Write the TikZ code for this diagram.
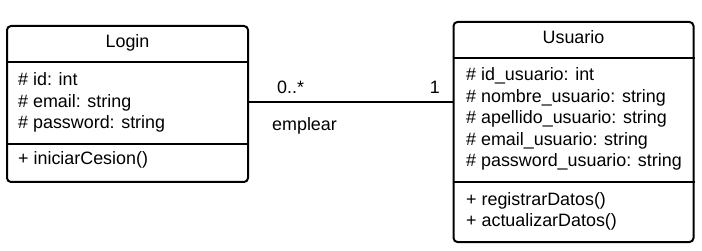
\documentclass[tikz,border=0pt]{standalone}
\usepackage{fontspec}
\setmainfont{Liberation Sans}
\begin{document}
\begin{tikzpicture}[x=1pt,y=-1pt,
  classbox/.style={draw=black, line width=2pt, rounded corners=4pt, inner sep=0pt},
  divider/.style={draw=black, line width=2pt},
  txt/.style={anchor=base west, inner sep=0pt, font=\fontsize{17.9}{20}\selectfont},
  title/.style={anchor=base, inner sep=0pt, font=\fontsize{17.9}{20}\selectfont},
  assoc/.style={draw=black, line width=2.8pt}]
\useasboundingbox (0,0) rectangle (702,251);

% class Login
\node[classbox, minimum width=241pt, minimum height=156pt] (login) at (127.5,104) {};
\draw[divider] (login.west |- 0,62) -- (login.east |- 0,62);
\draw[divider] (login.west |- 0,144) -- (login.east |- 0,144);
\node[title] (logint) at (127.5,48) {Login};
\node[txt] (la1) at (18,86) {\# id: int};
\node[txt] (la2) at (18,107.5) {\# email: string};
\node[txt] (la3) at (18,129) {\# password: string};
\node[txt] (lm1) at (18,165) {+ iniciarCesion()};

% class Usuario
\node[classbox, minimum width=240pt, minimum height=220pt] (usuario) at (573.5,132) {};
\draw[divider] (usuario.west |- 0,58) -- (usuario.east |- 0,58);
\draw[divider] (usuario.west |- 0,182) -- (usuario.east |- 0,182);
\node[title] (usuariot) at (573.5,43.5) {Usuario};
\node[txt] (ua1) at (466,81) {\# id\_usuario: int};
\node[txt] (ua2) at (466,102.5) {\# nombre\_usuario: string};
\node[txt] (ua3) at (466,124) {\# apellido\_usuario: string};
\node[txt] (ua4) at (466,145.5) {\# email\_usuario: string};
\node[txt] (ua5) at (466,167) {\# password\_usuario: string};
\node[txt] (um1) at (466,205) {+ registrarDatos()};
\node[txt] (um2) at (466,226) {+ actualizarDatos()};

% association
\coordinate (aL) at (login.east |- 0,102);
\coordinate (aU) at (usuario.west |- 0,102);
\draw[assoc] (aL) -- (aU);
\node[txt] (multL) at (277,94) {0..*};
\node[txt, anchor=base east] (multU) at (440,94) {1};
\node[txt] (role) at (272,131) {emplear};
\end{tikzpicture}
\end{document}
